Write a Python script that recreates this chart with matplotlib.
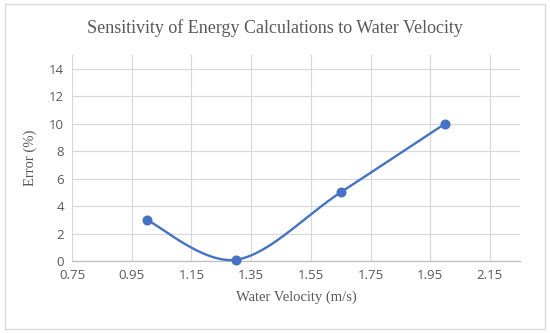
import numpy as np
import matplotlib
matplotlib.use('Agg')
from matplotlib import pyplot as plt
from matplotlib.patches import Rectangle

# данные
velocity = [1.0, 1.3, 1.65, 2.0]
error_pct = [3, 0.1, 5, 10]

x_ticks = [0.75, 0.95, 1.15, 1.35, 1.55, 1.75, 1.95, 2.15]
y_ticks = [0, 2, 4, 6, 8, 10, 12, 14]

line_color = '#4472C4'
text_color = '#595959'
grid_color = '#D9D9D9'


# Сглаживание как в Excel (Catmull-Rom -> Безье)
def smooth_curve(x, y, n=60):
    p = np.column_stack([x, y]).astype(float)
    pts = []
    for i in range(len(p) - 1):
        p0 = p[i - 1] if i > 0 else p[i]
        p1 = p[i]
        p2 = p[i + 1]
        p3 = p[i + 2] if i + 2 < len(p) else p[i + 1]
        c1 = p1 + (p2 - p0) / 6
        c2 = p2 - (p3 - p1) / 6
        t = np.linspace(0, 1, n)[:, None]
        seg = ((1 - t) ** 3) * p1 + 3 * ((1 - t) ** 2) * t * c1 + 3 * (1 - t) * t ** 2 * c2 + t ** 3 * p2
        pts.append(seg)
    pts = np.vstack(pts)
    return pts[:, 0], pts[:, 1]


fig = plt.figure(figsize=(5.5, 3.33), dpi=100)
ax = fig.add_axes([0.131, 0.216, 0.814, 0.619])

xs, ys = smooth_curve(velocity, error_pct)
ax.plot(xs, ys, color=line_color, lw=1.7, zorder=3, clip_on=False)
ax.plot(velocity, error_pct, 'o', color=line_color, ms=6.2, zorder=4, clip_on=False)

ax.set_xlim(0.75, 2.25)
ax.set_ylim(0, 15)
ax.set_xticks(x_ticks)
ax.set_yticks(y_ticks)
ax.set_xticklabels(['{:.2f}'.format(v) for v in x_ticks])
ax.set_yticklabels([str(v) for v in y_ticks])
ax.grid(True, color=grid_color, lw=0.9)
ax.set_axisbelow(True)
for s in ['top', 'right', 'left']:
    ax.spines[s].set_visible(False)
ax.spines['bottom'].set_color('#BFBFBF')
ax.spines['bottom'].set_linewidth(0.9)
ax.tick_params(length=0, colors=text_color, labelsize=9.5, pad=6)
for lab in ax.get_xticklabels() + ax.get_yticklabels():
    lab.set_fontfamily('Open Sans')

ax.set_xlabel('Water Velocity (m/s)', family='Liberation Serif', fontsize=10.5, color=text_color, labelpad=6)
ax.set_ylabel('Error (%)', family='Liberation Serif', fontsize=10.5, color=text_color, labelpad=8)
fig.text(0.5, 0.915, 'Sensitivity of Energy Calculations to Water Velocity',
         family='Liberation Serif', fontsize=13, color=text_color, ha='center', va='center')

fig.patches.append(Rectangle((0.009, 0.012), 0.982, 0.976, transform=fig.transFigure,
                             fill=False, edgecolor='#D9D9D9', lw=1))

fig.savefig('out.png', dpi=100)
